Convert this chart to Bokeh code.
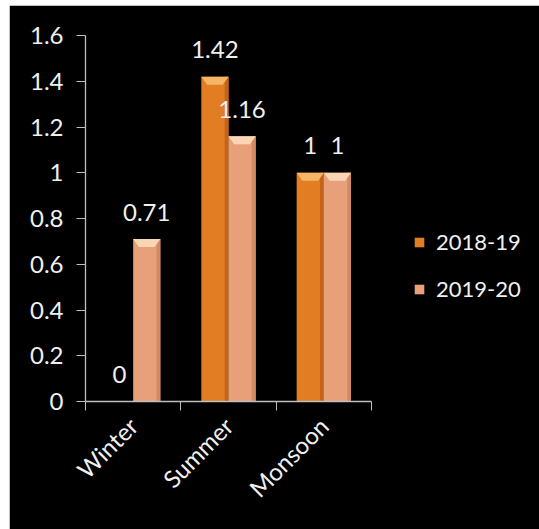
from bokeh.plotting import figure
from bokeh.models import (ColumnDataSource, LabelSet, Legend, LegendItem, FixedTicker,
                          Spacer)
from bokeh.core.properties import value
from bokeh.layouts import row, column
from bokeh.embed import file_html
from bokeh.resources import INLINE

# ---- data ----
seasons = ["Winter", "Summer", "Monsoon"]
series = ["2018-19", "2019-20"]
values_2018_19 = [0, 1.42, 1]
values_2019_20 = [0.71, 1.16, 1]
y_ticks = [0, 0.2, 0.4, 0.6, 0.8, 1.0, 1.2, 1.4, 1.6]
y_tick_labels = ["0", "0.2", "0.4", "0.6", "0.8", "1", "1.2", "1.4", "1.6"]

FONT = "Lato"
TXT = "#F0F0F0"
AXIS = "#BFBFBF"
BAR_W = 0.285
BEVEL_H = 0.035
BEVEL_D = 0.06
N = len(seasons)

col_main = ["#E27D24", "#E8A07A"]
col_top = ["#F5B566", "#F9D7B4"]
col_side = ["#C4631A", "#D38965"]

centers = [i + 0.5 for i in range(N)]
offsets = [-BAR_W / 2, BAR_W / 2]
vals = [values_2018_19, values_2019_20]

# frame is widened to the right so that the legend sits inside it
p = figure(width=530, height=524, x_range=(0, N * 454 / 286), y_range=(0, 1.6),
           output_backend="svg", toolbar_location=None,
           background_fill_color="black", border_fill_color="black",
           min_border_left=76, min_border_top=30, min_border_right=0,
           min_border_bottom=128)
p.outline_line_color = "black"
p.outline_line_width = 3
p.grid.visible = False

renderers = []
for s in range(2):
    xs = [c + offsets[s] for c in centers]
    src = ColumnDataSource(dict(x=xs, xside=[x + BAR_W / 2 - 0.02 for x in xs],
                                top=vals[s],
                                label=[f"{v:g}" for v in vals[s]]))
    r = p.vbar(x="x", top="top", bottom=0, width=BAR_W, source=src,
               fill_color=col_main[s], line_color=None)
    p.vbar(x="xside", top="top", bottom=0, width=0.04,
           source=src, fill_color=col_side[s], line_color=None)
    # bevelled top of each bar, derived from the bar's position and value
    bx, by = [], []
    for x, v in zip(xs, vals[s]):
        if v <= 0:
            continue
        bx.append([x - BAR_W / 2, x + BAR_W / 2, x + BAR_W / 2 - BEVEL_D, x - BAR_W / 2 + BEVEL_D])
        by.append([v, v, v - BEVEL_H, v - BEVEL_H])
    p.patches(bx, by, fill_color=col_top[s], line_color=None)
    renderers.append(r)
    p.add_layout(LabelSet(x="x", y="top", text="label", source=src, y_offset=27,
                          text_align="center", text_baseline="middle",
                          text_color=TXT, text_font=value(FONT), text_font_size="24px"))

# axes
p.xaxis.bounds = (0, N)
p.xaxis.ticker = FixedTicker(ticks=centers, minor_ticks=list(range(N + 1)))
p.xaxis.major_label_overrides = {c: s for c, s in zip(centers, seasons)}
p.xaxis.minor_tick_line_color = AXIS
p.xaxis.minor_tick_out = 9
p.xaxis.minor_tick_in = 0
p.xaxis.major_label_orientation = 0.785398
p.xaxis.major_label_standoff = 11

p.yaxis.ticker = FixedTicker(ticks=y_ticks, minor_ticks=[])
p.yaxis.major_label_overrides = {t: l for t, l in zip(y_ticks, y_tick_labels)}
p.yaxis.major_tick_out = 9
p.yaxis.major_tick_in = 0
p.yaxis.major_label_standoff = 13

for ax in (p.xaxis, p.yaxis):
    ax.axis_line_color = AXIS
    ax.major_label_text_color = TXT
    ax.major_label_text_font = FONT
    ax.major_label_text_font_size = "24px"
    ax.axis_line_width = 1.3
p.yaxis.major_tick_line_color = AXIS
p.xaxis.major_tick_line_color = None

legend = Legend(items=[LegendItem(label=series[i], renderers=[renderers[i]]) for i in range(2)],
                location=(328, 99), orientation="vertical",
                background_fill_alpha=0, border_line_color=None,
                padding=0, margin=0, spacing=20, glyph_width=12, glyph_height=12,
                label_standoff=11, label_height=24,
                label_text_color=TXT, label_text_font=FONT, label_text_font_size="22px")
p.add_layout(legend)

layout = row(Spacer(width=9), column(Spacer(height=5), p))
open("out.html", "w").write(file_html(layout, INLINE))
